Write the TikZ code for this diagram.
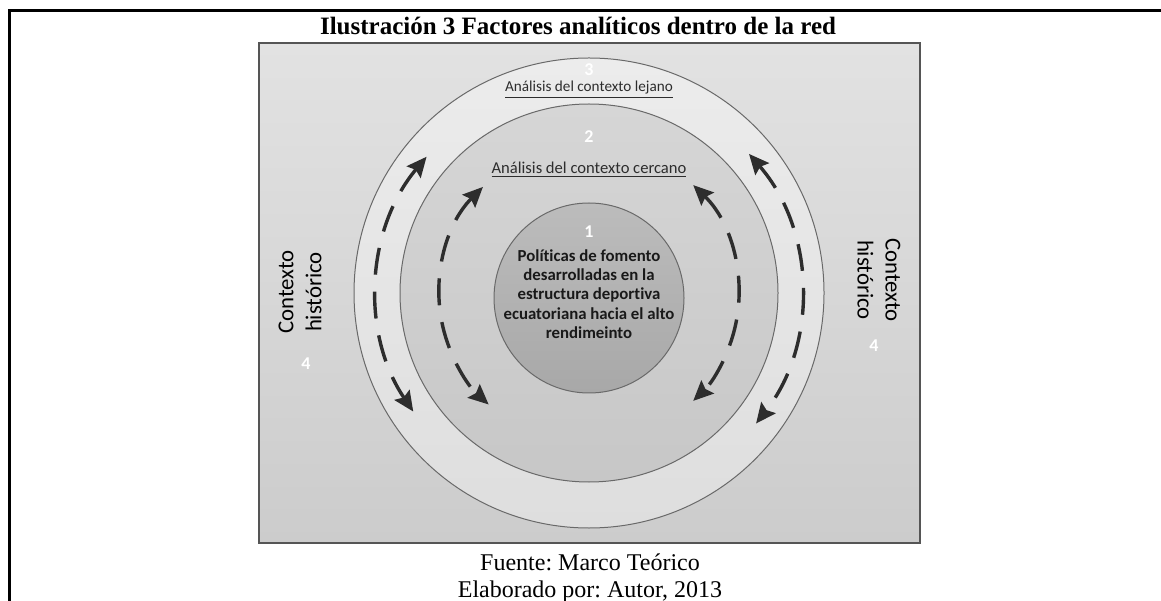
\documentclass[tikz,border=0pt]{standalone}
\usepackage{fontspec}
\setmainfont{Liberation Serif}
\newfontfamily\calfont[Ligatures={NoCommon}]{Carlito}
\usepackage{xcolor}
\usepackage{tikz}
\usetikzlibrary{arrows.meta, positioning, calc}
\frenchspacing
\definecolor{myframe}{RGB}{0,0,0}
\definecolor{myedge}{RGB}{85,85,85}
\definecolor{myring}{RGB}{105,105,105}
\definecolor{mydark}{RGB}{45,45,45}
\definecolor{bgtop}{RGB}{226,226,226}
\definecolor{bgbot}{RGB}{204,204,204}
\definecolor{outtop}{RGB}{236,236,236}
\definecolor{outbot}{RGB}{222,222,222}
\definecolor{midtop}{RGB}{214,214,214}
\definecolor{midbot}{RGB}{199,199,199}
\definecolor{intop}{RGB}{188,188,188}
\definecolor{inbot}{RGB}{168,168,168}
\tikzset{
  ring/.style={circle, draw=myring, line width=0.5pt, inner sep=0pt},
  numlabel/.style={font=\calfont\fontsize{9}{10}\selectfont\bfseries,
    text=white, inner sep=0pt},
  ringlabel/.style={font=\calfont\fontsize{7.6}{9}\selectfont,
    text=mydark, inner sep=0pt},
  sidelabel/.style={font=\calfont\fontsize{11.4}{14}\selectfont,
    align=center, inner sep=0pt},
  corelabel/.style={font=\calfont\fontsize{8.4}{9.6}\selectfont\bfseries,
    align=center, inner sep=0pt, text=black!90},
  flow/.style={line width=1.7pt, color=mydark, dash pattern=on 13.5pt off 8.5pt,
    {Stealth[length=10pt, width=9pt, inset=1.5pt]}-{Stealth[length=10pt, width=9pt, inset=1.5pt]}},
  caption/.style={font=\fontsize{12}{14}\selectfont, inner sep=0pt, anchor=base}
}

\begin{document}
\begin{tikzpicture}[x=0.5pt, y=0.5pt]
  \useasboundingbox (0,0) rectangle (1161,600);

  % Page frame and title
  \draw[myframe, line width=1.5pt] (1170,589) -- (9.5,589) -- (9.5,-10);
  \node[caption, font=\fontsize{12.5}{14}\selectfont\bfseries] (title) at (578,565)
    {Ilustración 3 Factores analíticos dentro de la red};

  % Background panel
  \draw[myedge, line width=1pt, top color=bgtop, bottom color=bgbot] (259,557) rectangle (920,57);

  % Rings
  \coordinate (C) at (589,307);
  \node[ring, minimum size=235pt, top color=outtop, bottom color=outbot] (far) at (C) {};
  \node[ring, minimum size=189pt, top color=midtop, bottom color=midbot] (near) at (C) {};
  \node[ring, minimum size=95pt, top color=intop, bottom color=inbot] (core) at (589,302) {};

  % Ring labels
  \node[numlabel] (n3) at (589,530) {3};
  \node[ringlabel] (far label) at (589,510) {\underline{Análisis del contexto lejano}};
  \node[numlabel] (n2) at (589,463) {2};
  \node[ringlabel, font=\calfont\fontsize{8.3}{9}\selectfont] (near label) at (589,430)
    {\underline{Análisis del contexto cercano}};
  \node[numlabel] (n1) at (589,368) {1};
  \node[corelabel] (core label) at (589,306)
    {Políticas de fomento\\desarrolladas en la\\estructura deportiva\\ecuatoriana hacia el alto\\rendimeinto};

  % Historic context
  \node[sidelabel, rotate=90] (left ctx) at (300,308) {Contexto\\histórico};
  \node[numlabel] (n4l) at (306,236) {4};
  \node[sidelabel, rotate=-90] (right ctx) at (879,320) {Contexto\\histórico};
  \node[numlabel] (n4r) at (874,254) {4};

  % Flow arrows
  \draw[flow] ($(C)+(140:212)$) arc[start angle=140, end angle=214, radius=212];
  \draw[flow] ($(C)+(41:212)$) arc[start angle=41, end angle=-38, radius=212];
  \draw[flow] ($(C)+(135:150)$) arc[start angle=135, end angle=228, radius=150];
  \draw[flow] ($(C)+(46:150)$) arc[start angle=46, end angle=-46, radius=150];

  % Source lines
  \node[caption] (source) at (590,30) {Fuente: Marco Teórico};
  \node[caption] (author) at (590,3) {Elaborado por: Autor, 2013};
\end{tikzpicture}
\end{document}
